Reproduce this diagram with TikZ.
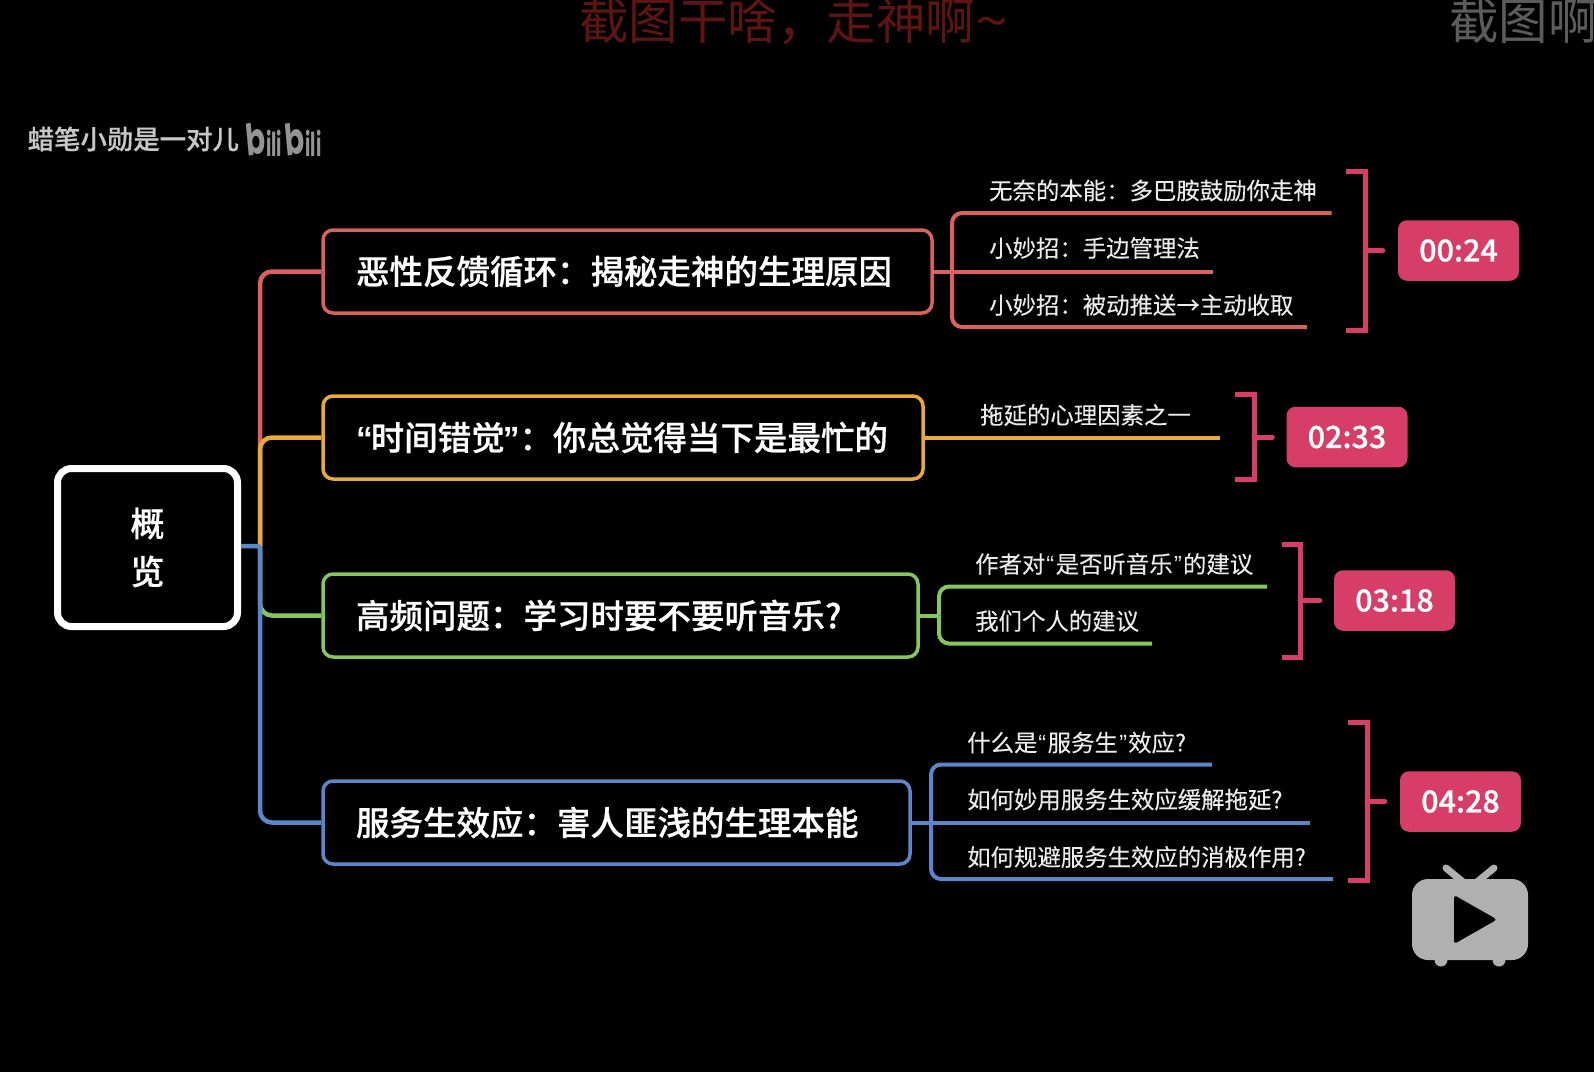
\documentclass[tikz,border=0pt]{standalone}
\usepackage{fontspec}
\setmainfont{Noto Sans CJK SC}[BoldFont={Noto Sans CJK SC Medium},BoldFeatures={FakeBold=0.6}]
\newfontfamily\leaffont{Noto Sans CJK SC}[FakeBold=0.15]
\newfontfamily\latinlogo{Poppins}
\newfontfamily\qfont{Liberation Sans}
\newcommand{\qo}{{\qfont “}\kern-2pt\relax}
\newcommand{\qc}{\kern-2pt{\qfont ”}}
\newcommand{\qol}{\kern1pt{\qfont “}\kern1.5pt\relax}
\newcommand{\qcl}{\kern1.5pt{\qfont ”}\kern1pt\relax}
\usetikzlibrary{calc}
\definecolor{cred}{HTML}{DA625C}
\definecolor{cyel}{HTML}{EAAA38}
\definecolor{cgrn}{HTML}{86C65E}
\definecolor{cblu}{HTML}{5C86CB}
\definecolor{cpink}{HTML}{D63E68}
\definecolor{wmred}{HTML}{5E1512}
\definecolor{wmgray}{HTML}{5C5C5C}
\tikzset{
  rootbox/.style={draw=white,line width=7pt,rounded corners=14pt,fill=black,minimum width=180pt,minimum height=158pt,inner sep=0pt,align=center,text=white,font=\fontsize{34}{48}\selectfont\bfseries},
  mainbox/.style={line width=3.5pt,rounded corners=10pt,fill=black,draw,minimum height=83pt,inner xsep=33pt,inner ysep=0pt,align=left,text=white,font=\fontsize{33.5}{40}\selectfont\bfseries},
  leaf/.style={anchor=west,inner sep=0pt,text=white!92!black,font=\fontsize{23.4}{28}\selectfont\leaffont},
  branch/.style={line width=4.5pt,rounded corners=12pt},
  subline/.style={line width=4pt,rounded corners=10pt},
  bracket/.style={draw=cpink,line width=5pt,line join=miter},
  stub/.style={draw=cpink,line width=5pt,line cap=round},
  badge/.style={fill=cpink,rounded corners=9pt,minimum width=121pt,minimum height=60.5pt,inner sep=0pt,text=white,font=\fontsize{30.5}{36}\selectfont\bfseries},
  tv/.style={fill=black!31,draw=none},
  wm/.style={inner sep=0pt,font=\fontsize{49.5}{56}\selectfont}
}
\begin{document}
\begin{tikzpicture}[x=1pt,y=-1pt]
\fill[black] (0,0) rectangle (1594,1072);
\useasboundingbox (0,0) rectangle (1594,1072);
\begin{scope}
\clip (0,0) rectangle (1594,1072);
\node[wm,anchor=west,text=wmred] (wm1) at (579,21) {截图干啥，走神啊\scalebox{1.2}[1]{\char`\~}};
\node[wm,anchor=west,text=wmgray] (wm2) at (1449,21) {截图啊};
\end{scope}
\node[inner sep=0pt,anchor=west,text=white!78!black,font=\fontsize{26.4}{30}\selectfont\bfseries] (author) at (27.5,139) {蜡笔小勋是一对儿};
\node[inner sep=0pt,anchor=west,text=black!42,font=\latinlogo\bfseries] (logo) at (244,139) {\fontsize{30}{30}\selectfont\scalebox{0.95}[1.45]{\rotatebox{8}{b}}\scalebox{0.6}[1.1]{ili}\kern1pt\scalebox{0.95}[1.45]{\rotatebox{8}{b}}\scalebox{0.6}[1.1]{ili}};

% nodes
\node[rootbox] (root) at (147.5,547.5) {\raisebox{1.5pt}{概}\\\raisebox{1.5pt}{览}};
\node[mainbox,draw=cred,text width=543pt] (mred) at (627.5,271.5) {\raisebox{1pt}{恶性反馈循环：揭秘走神的生理原因}};
\node[mainbox,draw=cyel,text width=534pt] (myel) at (623,437.5) {\qo 时间错觉\qc ：你总觉得当下是最忙的};
\node[mainbox,draw=cgrn,text width=529pt] (mgrn) at (620.5,615.5) {高频问题：学习时要不要听音乐?};
\node[mainbox,draw=cblu,text width=521pt] (mblu) at (616.5,822.5) {服务生效应：害人匪浅的生理本能};

% trunk
\coordinate (tx) at (260,546);
\draw[branch,cred] (tx) |- (mred.west);
\draw[branch,cyel] (tx) |- (myel.west);
\draw[branch,cgrn] (tx) |- (mgrn.west);
\draw[branch,cblu] ([yshift=1.5pt]root.east) [rounded corners=3pt] -- (tx) [rounded corners=12pt] |- (mblu.west);

% red leaves
\node[leaf] (r1) at (989,190.5) {无奈的本能：多巴胺鼓励你走神};
\node[leaf] (r2) at (989,248) {小妙招：手边管理法};
\node[leaf] (r3) at (989,305) {小妙招：被动推送→主动收取};
\coordinate (rj) at (952,271.5);
\coordinate (re1) at (1331.5,213);
\coordinate (re2) at (1213,271.5);
\coordinate (re3) at (1307,327);
\draw[subline,cred] (mred.east) -- (re2);
\draw[subline,cred] (rj) |- (re1);
\draw[subline,cred] (rj) |- (re3);

% yellow leaf
\node[leaf] (y1) at (980,415) {拖延的心理因素之一};
\coordinate (ye1) at (1219.5,437.5);
\draw[subline,cyel] (myel.east) -- (ye1);

% green leaves
\node[leaf] (g1) at (975,564) {作者对\qol 是否听音乐\qcl 的建议};
\node[leaf] (g2) at (975,621) {我们个人的建议};
\coordinate (gj) at (939,615.5);
\coordinate (ge1) at (1267,586.5);
\coordinate (ge2) at (1152,643.5);
\draw[subline,cgrn] (mgrn.east) -- (gj);
\draw[subline,cgrn] (gj) |- (ge1);
\draw[subline,cgrn] (gj) |- (ge2);

% blue leaves
\node[leaf] (b1) at (967,742.5) {什么是\qol 服务生\qcl 效应?};
\node[leaf] (b2) at (967,799.5) {如何妙用服务生效应缓解拖延?};
\node[leaf] (b3) at (967,857) {如何规避服务生效应的消极作用?};
\coordinate (bj) at (931,822.5);
\coordinate (be1) at (1212,764.5);
\coordinate (be2) at (1309.5,822.5);
\coordinate (be3) at (1333,879);
\draw[subline,cblu] (mblu.east) -- (be2);
\draw[subline,cblu] (bj) |- (be1);
\draw[subline,cblu] (bj) |- (be3);

% badges and brackets
\node[badge] (t1) at (1458.5,250.5) {00:24};
\node[badge] (t2) at (1347,437) {02:33};
\node[badge] (t3) at (1394.5,600.5) {03:18};
\node[badge] (t4) at (1460.5,801.5) {04:28};

\draw[bracket] (1346,171) -| (1365.5,330) -- (1346,330);
\coordinate (k1) at (1365.5,250.5);
\draw[stub,shorten >=15pt] (k1) -- (t1.west);
\draw[bracket] (1234.5,394) -| (1254,479) -- (1234.5,479);
\coordinate (k2) at (1254,437);
\draw[stub,shorten >=14pt] (k2) -- (t2.west);
\draw[bracket] (1282,544.5) -| (1300,657.5) -- (1282,657.5);
\coordinate (k3) at (1300,600.5);
\draw[stub,shorten >=14pt] (k3) -- (t3.west);
\draw[bracket] (1348,722) -| (1367,880) -- (1348,880);
\coordinate (k4) at (1367,801.5);
\draw[stub,shorten >=15pt] (k4) -- (t4.west);

% TV icon
\fill[tv] (1441,960) circle (6.5pt) (1499,960) circle (6.5pt);
\draw[line width=7pt,line cap=round,black!31] (1446,868) -- (1463,882) (1494,868) -- (1477,882);
\fill[tv,rounded corners=16pt] (1412,879) rectangle (1528,960);
\fill[black,rounded corners=3pt] (1454,895) -- (1454,944) -- (1497,919.5) -- cycle;
\end{tikzpicture}
\end{document}
